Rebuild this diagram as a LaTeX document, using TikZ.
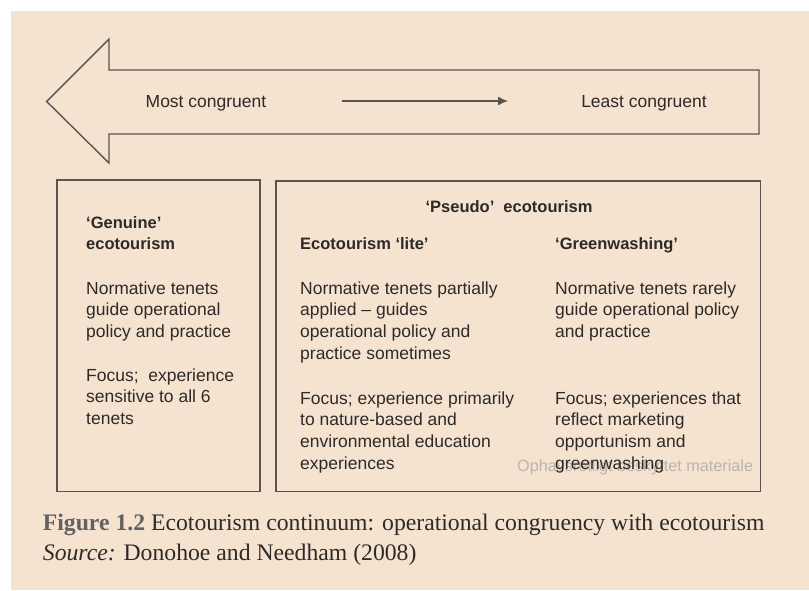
\documentclass[tikz,border=0pt]{standalone}
\usepackage{fontspec}
\setmainfont{Liberation Serif}
\setsansfont{Liberation Sans}
\usetikzlibrary{arrows.meta}
\definecolor{paper}{RGB}{245,227,208}
\definecolor{frame}{RGB}{88,84,80}
\definecolor{ink}{RGB}{45,42,40}
\definecolor{stamp}{RGB}{188,180,172}
\tikzset{
  body/.style={anchor=base west, inner sep=0pt, align=left, text=ink,
    font=\sffamily\fontsize{17.5}{21.7}\selectfont},
  head/.style={anchor=base west, inner sep=0pt, align=left, text=ink,
    font=\sffamily\bfseries\fontsize{16.5}{21}\selectfont},
  box/.style={draw=frame, line width=1.4pt},
}

\begin{document}
\begin{tikzpicture}[x=1pt,y=-1pt]
\useasboundingbox (0,0) rectangle (809,590);
\fill[white] (0,0) rectangle (809,590);
\fill[paper] (11,11) rectangle (809,590);

% continuum arrow
\draw[box, line join=miter] (46.7,101.5) -- (109,39) -- (109,70) -- (759,70)
  -- (759,134) -- (109,134) -- (109,163) -- cycle;

\node [body, anchor=base] (most) at (206,107) {Most congruent};
\node [body, anchor=base] (least) at (644,107) {Least congruent};
\coordinate (dirstart) at (341.7,101);
\coordinate (dirend) at (508,101);
\draw [frame, line width=1.3pt, -{Latex[length=10pt,width=9pt]}] (dirstart) -- (dirend);

% boxes
\draw [box] (57,180) rectangle (260,491.5);
\draw [box] (276,181) rectangle (760.5,491.5);

% watermark
\node [body, text=stamp, font=\sffamily\fontsize{16.2}{20}\selectfont] (stampline) at (517,471) {Ophavsretligt beskyttet materiale};

% genuine (base = last line)
\node [head] (genuine) at (86,249) {`Genuine'\\ecotourism};
\node [body] (genuinetenets) at (86,337.4) {Normative tenets\\guide operational\\policy and practice};
\node [body] (genuinefocus) at (86,424.4) {Focus;\ \ experience\\sensitive to all 6\\tenets};

% pseudo
\node [head, anchor=base] (pseudo) at (509,212) {`Pseudo'\ \ ecotourism};
\node [head] (lite) at (300,249) {Ecotourism `lite'};
\node [body] (litetenets) at (300,359.1) {Normative tenets partially\\applied -- guides\\operational policy and\\practice sometimes};
\node [body] (litefocus) at (300,469.1) {Focus; experience primarily\\to nature-based and\\environmental education\\experiences};
\node [head] (green) at (555,249) {`Greenwashing'};
\node [body] (greentenets) at (555,337.4) {Normative tenets rarely\\guide operational policy\\and practice};
\node [body] (greenfocus) at (555,469.1) {Focus; experiences that\\reflect marketing\\opportunism and\\greenwashing};

% caption
\node [anchor=base west, inner sep=0pt, align=left, text=ink,
  font=\fontsize{23.7}{30}\selectfont] (caption) at (42.7,560)
  {\textcolor{black!62}{\textbf{Figure 1.2}} Ecotourism continuum: operational congruency with ecotourism\\
   \textit{Source:} Donohoe and Needham (2008)};
\end{tikzpicture}
\end{document}
